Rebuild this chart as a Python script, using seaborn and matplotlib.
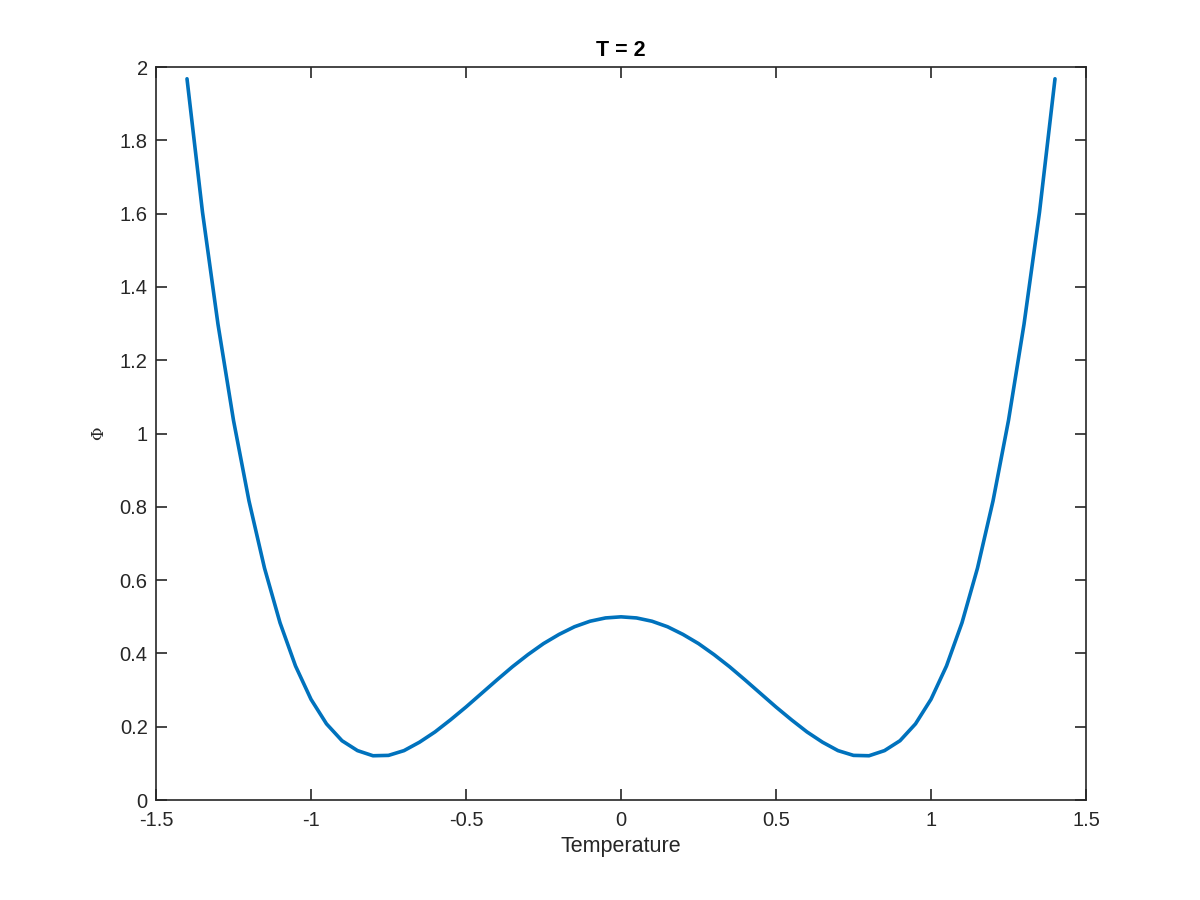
import numpy as np
import pandas as pd
import seaborn as sns
import matplotlib.pyplot as plt

# values (symmetric around 0)
temperature = [-1.4, -1.35, -1.3, -1.25, -1.2, -1.15, -1.1, -1.05, -1.0, -0.95,
               -0.9, -0.85, -0.8, -0.75, -0.7, -0.65, -0.6, -0.55, -0.5, -0.45,
               -0.4, -0.35, -0.3, -0.25, -0.2, -0.15, -0.1, -0.05, 0.0,
               0.05, 0.1, 0.15, 0.2, 0.25, 0.3, 0.35, 0.4, 0.45, 0.5,
               0.55, 0.6, 0.65, 0.7, 0.75, 0.8, 0.85, 0.9, 0.95, 1.0,
               1.05, 1.1, 1.15, 1.2, 1.25, 1.3, 1.35, 1.4]
phi = [1.968, 1.604, 1.298, 1.036, 0.816, 0.633, 0.484, 0.366, 0.275, 0.208,
       0.162, 0.135, 0.121, 0.122, 0.135, 0.158, 0.186, 0.219, 0.254, 0.291,
       0.328, 0.364, 0.397, 0.427, 0.452, 0.473, 0.488, 0.497, 0.5,
       0.497, 0.488, 0.473, 0.452, 0.427, 0.397, 0.364, 0.328, 0.291, 0.254,
       0.219, 0.186, 0.158, 0.135, 0.122, 0.121, 0.135, 0.162, 0.208, 0.275,
       0.366, 0.484, 0.633, 0.816, 1.036, 1.298, 1.604, 1.968]

xticks = [-1.5, -1, -0.5, 0, 0.5, 1, 1.5]
xtick_labels = ["-1.5", "-1", "-0.5", "0", "0.5", "1", "1.5"]
yticks = [0, 0.2, 0.4, 0.6, 0.8, 1, 1.2, 1.4, 1.6, 1.8, 2]
ytick_labels = ["0", "0.2", "0.4", "0.6", "0.8", "1", "1.2", "1.4", "1.6", "1.8", "2"]

sns.set_style("ticks")
plt.rcParams['font.family'] = ['Liberation Sans', 'DejaVu Sans']

df = pd.DataFrame({"Temperature": temperature, "Phi": phi})

fig = plt.figure(figsize=(12, 9), dpi=100)
ax = fig.add_axes([0.13, 0.111, 0.775, 0.8145])
sns.lineplot(data=df, x="Temperature", y="Phi", color="#0072BD", linewidth=2.6, ax=ax)

ax.set_xlim(-1.5, 1.5)
ax.set_ylim(0, 2)
ax.set_xticks(xticks)
ax.set_xticklabels(xtick_labels)
ax.set_yticks(yticks)
ax.set_yticklabels(ytick_labels)

for s in ax.spines.values():
    s.set_visible(True)
    s.set_color("#262626")
    s.set_linewidth(1.2)
ax.tick_params(direction="in", length=8, width=1.2, color="#262626",
               top=True, right=True, labelsize=14.5, labelcolor="#262626")
ax.tick_params(axis="x", pad=8)
ax.tick_params(axis="y", pad=6)

ax.set_xlabel("Temperature", fontsize=15.5, color="#262626", labelpad=4)
ax.set_ylabel("Φ", fontsize=12, family="DejaVu Serif", color="#262626", labelpad=9)
ax.set_title("T = 2", fontsize=15.5, fontweight="bold", color="black", pad=8)

fig.savefig("out.png", dpi=100, facecolor="white")
